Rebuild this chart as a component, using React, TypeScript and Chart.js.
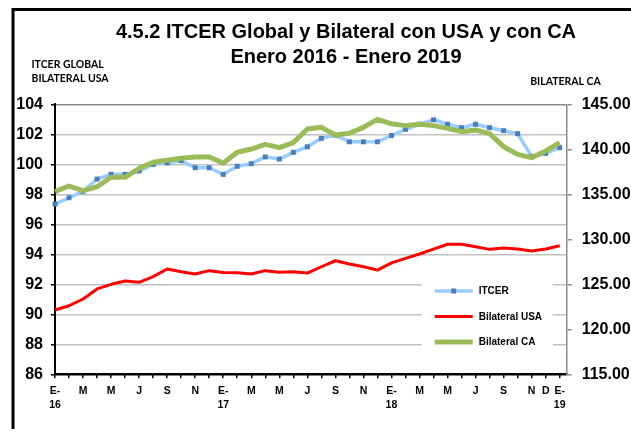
import React, { useEffect, useRef } from "react";
import { Chart, registerables } from "chart.js";

Chart.register(...registerables);

// ---------- DATA ----------
const titleLines = ["4.5.2 ITCER Global y Bilateral con USA y con CA", "Enero 2016 - Enero 2019"];
const leftAxisTitle = ["ITCER GLOBAL", "BILATERAL USA"];
const rightAxisTitle = "BILATERAL CA";

// one entry per month, Jan 2016 .. Jan 2019 (lines separated by "|")
const xTickLabels = [
  "E-|16", "", "M", "", "M", "", "J", "", "S", "", "N", "",
  "E-|17", "", "M", "", "M", "", "J", "", "S", "", "N", "",
  "E-|18", "", "M", "", "M", "", "J", "", "S", "", "N", "D",
  "E-|19",
];

const itcer = [
  97.35, 97.77, 98.2, 99.02, 99.33, 99.33, 99.55, 100.0, 100.1, 100.24, 99.77, 99.77,
  99.33, 99.87, 100.04, 100.49, 100.35, 100.8, 101.17, 101.73, 101.95, 101.5, 101.5, 101.5,
  101.92, 102.33, 102.67, 102.97, 102.67, 102.44, 102.67, 102.44, 102.24, 102.04, 100.51, 100.73,
  101.11,
];

const bilateralUSA = [
  90.29, 90.57, 91.02, 91.69, 92.0, 92.22, 92.13, 92.51, 93.02, 92.84, 92.69, 92.91,
  92.78, 92.77, 92.69, 92.91, 92.8, 92.84, 92.75, 93.17, 93.57, 93.35, 93.17, 92.95,
  93.43, 93.73, 94.02, 94.35, 94.67, 94.67, 94.51, 94.33, 94.42, 94.35, 94.22, 94.35,
  94.57,
];

const bilateralCA = [
  135.29, 135.92, 135.4, 135.84, 136.89, 136.89, 137.89, 138.56, 138.78, 139.0, 139.14, 139.14,
  138.46, 139.67, 140.03, 140.55, 140.18, 140.74, 142.26, 142.44, 141.59, 141.78, 142.44, 143.33,
  142.83, 142.63, 142.78, 142.63, 142.33, 141.96, 142.14, 141.74, 140.29, 139.44, 139.07, 139.81,
  140.74,
];

const seriesNames = ["ITCER", "Bilateral USA", "Bilateral CA"];
const leftAxisRange = [86, 104, 2];
const rightAxisRange = [115, 145, 5];

// ---------- STYLE ----------
const FONT = "'Liberation Sans', Arial, sans-serif";
const CANVAS_W = 692;
const CANVAS_H = 429;
const AREA_LEFT = 55;
const AREA_RIGHT = 566.7;
const AREA_BOTTOM = 374.3;

const decorPlugin = {
  id: "decor",
  afterDatasetsDraw(chart: any) {
    const { ctx, chartArea } = chart;
    // legend
    const bx = chartArea.right - 145;
    const by = chartArea.top + 164;
    ctx.save();
    ctx.fillStyle = "#ffffff";
    ctx.fillRect(bx, by, 131, 94);
    chart.data.datasets.forEach((ds: any, i: number) => {
      const y = by + 22.7 + i * 25.5;
      const x0 = bx + 13;
      const x1 = bx + 51;
      ctx.strokeStyle = ds.borderColor;
      ctx.lineWidth = ds.borderWidth;
      ctx.lineCap = "butt";
      ctx.beginPath();
      ctx.moveTo(x0, y);
      ctx.lineTo(x1, y);
      ctx.stroke();
      if (ds.pointRadius > 0) {
        ctx.fillStyle = ds.pointBackgroundColor;
        ctx.fillRect((x0 + x1) / 2 - 2.5, y - 2.5, 5, 5);
      }
      ctx.fillStyle = "#000";
      ctx.font = `bold 10px ${FONT}`;
      ctx.textAlign = "left";
      ctx.textBaseline = "middle";
      ctx.fillText(ds.label, x1 + 6, y + 0.5);
    });
    ctx.restore();
  },
  afterDraw(chart: any) {
    const { ctx, chartArea } = chart;
    ctx.save();
    // outer frame
    ctx.strokeStyle = "#000";
    ctx.lineWidth = 3;
    ctx.strokeRect(13, 9.5, 666, 600);
    // axis titles
    ctx.fillStyle = "#000";
    ctx.font = `bold 10.5px Lato, ${FONT}`;
    ctx.textAlign = "left";
    ctx.textBaseline = "middle";
    ctx.fillText(leftAxisTitle[0], chartArea.left - 23.5, 64.5);
    ctx.fillText(leftAxisTitle[1], chartArea.left - 23.5, 79);
    ctx.fillText(rightAxisTitle, chartArea.right - 36.5, 82);
    ctx.restore();
  },
};

export default function App() {
  const canvasRef = useRef<HTMLCanvasElement | null>(null);

  useEffect(() => {
    if (!canvasRef.current) return;
    const chart = new Chart(canvasRef.current, {
      type: "line",
      data: {
        datasets: [
          {
            label: seriesNames[0],
            data: itcer.map((v, i) => ({ x: i, y: v })),
            yAxisID: "y",
            borderColor: "#99CCFF",
            borderWidth: 3.5,
            pointStyle: "rect",
            pointRadius: 3.5,
            pointBackgroundColor: "#4A7EBB",
            pointBorderWidth: 0,
            tension: 0,
            order: 3,
            clip: false,
            borderJoinStyle: "round",
          },
          {
            label: seriesNames[1],
            data: bilateralUSA.map((v, i) => ({ x: i, y: v })),
            yAxisID: "y",
            borderColor: "#FF0000",
            borderWidth: 3,
            pointRadius: 0,
            tension: 0,
            order: 2,
            clip: false,
            borderJoinStyle: "round",
          },
          {
            label: seriesNames[2],
            data: bilateralCA.map((v, i) => ({ x: i, y: v })),
            yAxisID: "y1",
            borderColor: "#9BBB59",
            borderWidth: 5,
            pointRadius: 0,
            tension: 0,
            order: 1,
            clip: false,
            borderJoinStyle: "round",
          },
        ] as any,
      },
      options: {
        responsive: false,
        maintainAspectRatio: false,
        animation: false,
        devicePixelRatio: 1,
        layout: { padding: 0 },
        plugins: {
          legend: { display: false },
          tooltip: { enabled: false },
          title: {
            display: true,
            text: titleLines,
            color: "#000",
            font: { family: FONT, size: 20, weight: "bold", lineHeight: 1.25 },
            padding: { top: 20, bottom: 34.3 },
          },
        },
        scales: {
          x: {
            type: "linear",
            min: 0,
            max: xTickLabels.length - 0.5,
            afterBuildTicks: (axis: any) => {
              axis.ticks = xTickLabels.map((_, i) => ({ value: i }));
            },
            afterFit: (axis: any) => {
              axis.height = CANVAS_H - AREA_BOTTOM;
            },
            grid: {
              drawOnChartArea: false,
              drawTicks: true,
              tickLength: 4,
              color: "#000",
              lineWidth: 1.5,
            },
            border: { display: true, color: "#000", width: 2 },
            ticks: {
              autoSkip: false,
              maxRotation: 0,
              minRotation: 0,
              padding: 6,
              color: "#000",
              font: { family: FONT, size: 10.5, weight: "bold", lineHeight: 1.3 },
              callback: (value: any) => {
                const s = xTickLabels[Math.round(Number(value))] || "";
                return s.split("|");
              },
            },
          },
          y: {
            position: "left",
            min: leftAxisRange[0],
            max: leftAxisRange[1],
            afterFit: (axis: any) => {
              axis.width = AREA_LEFT;
            },
            grid: {
              drawTicks: true,
              tickLength: 4,
              lineWidth: 1.5,
              tickColor: "#000",
              color: (ctx: any) => {
                const v = ctx.tick ? ctx.tick.value : null;
                if (v === leftAxisRange[1]) return "#8C8C8C";
                if (v === leftAxisRange[0]) return "#000";
                return "#C0C0C0";
              },
            },
            border: { display: true, color: "#000", width: 2 },
            ticks: {
              stepSize: leftAxisRange[2],
              padding: 8,
              color: "#000",
              font: { family: FONT, size: 16, weight: "bold" },
            },
          },
          y1: {
            position: "right",
            min: rightAxisRange[0],
            max: rightAxisRange[1],
            afterFit: (axis: any) => {
              axis.width = CANVAS_W - AREA_RIGHT;
            },
            grid: {
              drawOnChartArea: false,
              drawTicks: true,
              tickLength: 5,
              color: "#8C8C8C",
              lineWidth: 1.5,
            },
            border: { display: true, color: "#8C8C8C", width: 1.5 },
            ticks: {
              stepSize: rightAxisRange[2],
              padding: 10,
              color: "#000",
              font: { family: FONT, size: 16, weight: "bold" },
              callback: (v: any) => Number(v).toFixed(2),
            },
          },
        },
      } as any,
      plugins: [decorPlugin],
    });
    return () => chart.destroy();
  }, []);

  return (
    <div
      style={{
        position: "absolute",
        left: 0,
        top: 0,
        width: 631,
        height: 429,
        overflow: "hidden",
        background: "#fff",
      }}
    >
      <canvas
        ref={canvasRef}
        width={CANVAS_W}
        height={CANVAS_H}
        style={{ width: CANVAS_W, height: CANVAS_H, display: "block" }}
      />
    </div>
  );
}
